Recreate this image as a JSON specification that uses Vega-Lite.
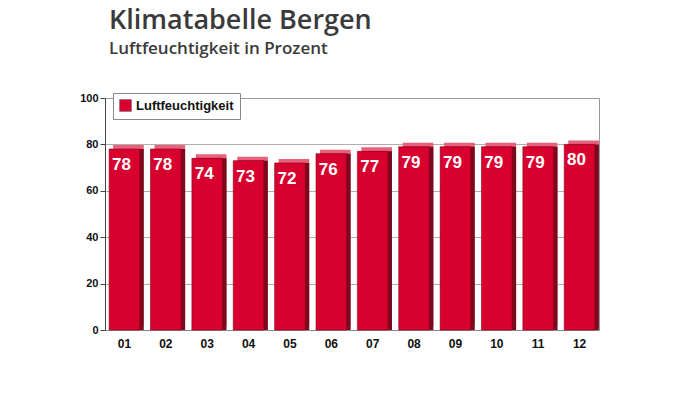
{
  "$schema": "https://vega.github.io/schema/vega-lite/v6.json",
  "width": 494,
  "height": 232,
  "autosize": "none",
  "padding": {"left": 105, "top": 98, "right": 100, "bottom": 63},
  "background": "white",
  "title": {
    "text": "Klimatabelle Bergen",
    "subtitle": "Luftfeuchtigkeit in Prozent",
    "anchor": "start",
    "frame": "group",
    "dx": 4,
    "offset": 34,
    "font": "Open Sans",
    "fontSize": 27,
    "fontWeight": 600,
    "color": "#3a3a3a",
    "subtitleFont": "Open Sans",
    "subtitleFontSize": 17,
    "subtitleFontWeight": 600,
    "subtitleColor": "#3a3a3a",
    "subtitlePadding": 6
  },
  "data": {
    "values": [
      {"Monat": "01", "Wert": 78, "Serie": "Luftfeuchtigkeit"},
      {"Monat": "02", "Wert": 78, "Serie": "Luftfeuchtigkeit"},
      {"Monat": "03", "Wert": 74, "Serie": "Luftfeuchtigkeit"},
      {"Monat": "04", "Wert": 73, "Serie": "Luftfeuchtigkeit"},
      {"Monat": "05", "Wert": 72, "Serie": "Luftfeuchtigkeit"},
      {"Monat": "06", "Wert": 76, "Serie": "Luftfeuchtigkeit"},
      {"Monat": "07", "Wert": 77, "Serie": "Luftfeuchtigkeit"},
      {"Monat": "08", "Wert": 79, "Serie": "Luftfeuchtigkeit"},
      {"Monat": "09", "Wert": 79, "Serie": "Luftfeuchtigkeit"},
      {"Monat": "10", "Wert": 79, "Serie": "Luftfeuchtigkeit"},
      {"Monat": "11", "Wert": 79, "Serie": "Luftfeuchtigkeit"},
      {"Monat": "12", "Wert": 80, "Serie": "Luftfeuchtigkeit"}
    ]
  },
  "encoding": {
    "x": {
      "field": "Monat",
      "type": "ordinal",
      "scale": {"paddingInner": 0.26, "paddingOuter": 0.1},
      "axis": {
        "title": null,
        "labelAngle": 0,
        "labelFont": "Liberation Sans",
        "labelFontSize": 12,
        "labelFontWeight": "bold",
        "labelColor": "#111",
        "labelPadding": 8,
        "ticks": false,
        "domainColor": "#888",
        "domainWidth": 1
      }
    },
    "y": {
      "field": "Wert",
      "type": "quantitative",
      "scale": {"domain": [0, 100]},
      "axis": {
        "title": null,
        "values": [0, 20, 40, 60, 80, 100],
        "labelFont": "Liberation Sans",
        "labelFontSize": 11,
        "labelFontWeight": "bold",
        "labelColor": "#111",
        "tickColor": "#444",
        "tickSize": 5,
        "domainColor": "#444",
        "gridColor": "#9a9a9a",
        "gridWidth": 0.8
      }
    }
  },
  "layer": [
    {
      "mark": {"type": "bar", "color": "#e8607a", "xOffset": 4, "yOffset": -4},
      "encoding": {}
    },
    {
      "mark": {"type": "bar", "color": "#7a0a1c", "xOffset": 4},
      "encoding": {}
    },
    {
      "mark": {"type": "bar", "stroke": "#8a0018", "strokeWidth": 0.6},
      "encoding": {
        "color": {
          "field": "Serie",
          "type": "nominal",
          "scale": {"range": ["#d8002e"]},
          "legend": {
            "title": null,
            "orient": "none",
            "legendX": 8,
            "legendY": -5,
            "symbolType": "square",
            "symbolSize": 140,
            "symbolStrokeColor": "#555",
            "symbolStrokeWidth": 0.5,
            "labelFont": "Liberation Sans",
            "labelFontSize": 13,
            "labelFontWeight": "bold",
            "labelColor": "#111",
            "strokeColor": "#888",
            "fillColor": "white",
            "padding": 6,
            "labelLimit": 200
          }
        }
      }
    },
    {
      "mark": {
        "type": "text",
        "color": "white",
        "font": "Liberation Sans",
        "fontSize": 17,
        "fontWeight": "bold",
        "baseline": "middle",
        "dy": 16,
        "dx": -3
      },
      "encoding": {"text": {"field": "Wert", "type": "quantitative"}}
    }
  ],
  "config": {"view": {"stroke": "#999"}}
}
